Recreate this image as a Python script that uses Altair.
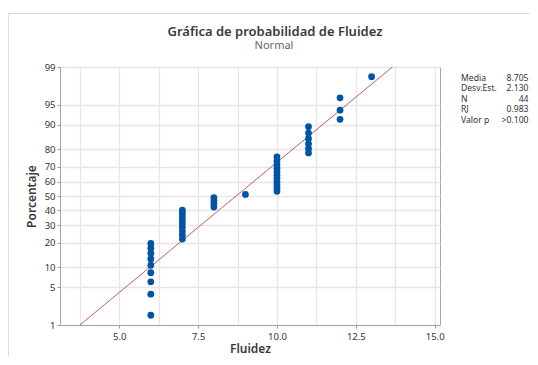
import altair as alt
import pandas as pd
from statistics import NormalDist

# ---- data ----
fluidez_values = [6, 7, 8, 9, 10, 11, 12, 13]
fluidez_counts = [9, 9, 4, 1, 11, 6, 3, 1]
pct_ticks = [1, 5, 10, 20, 30, 40, 50, 60, 70, 80, 90, 95, 99]
x_ticks = [3.75, 5.0, 6.25, 7.5, 8.75, 10.0, 11.25, 12.5, 13.75, 15.0]
x_domain = [3.12, 15.17]
line_pct = [1, 99]
media = 8.705
desv = 2.130
n_obs = 44
stat_labels = ["Media", "Desv.Est.", "N", "RJ", "Valor p"]
stat_values = ["8.705", "2.130", "44", "0.983", ">0.100"]
title_text = "Gráfica de probabilidad de Fluidez"
subtitle_text = "Normal"

FONT = "Noto Sans"
nd = NormalDist()
obs = [v for v, c in zip(fluidez_values, fluidez_counts) for _ in range(c)]
df = pd.DataFrame({"Fluidez": obs})
y_vals = [nd.inv_cdf(p / 100) for p in pct_ticks]
y_domain = [y_vals[0], y_vals[-1]]

W, H = 380, 258
x_scale = alt.Scale(domain=x_domain, nice=False, zero=False)
y_scale = alt.Scale(domain=y_domain, nice=False, zero=False)

x_axis = alt.Axis(
    values=x_ticks,
    labelExpr="datum.value % 2.5 == 0 ? format(datum.value, '.1f') : ''",
    title="Fluidez", grid=True, gridColor="#e6e6e6", gridWidth=1.3,
    tickSize=3, tickColor="#999999",
    tickOpacity={"condition": {"test": "datum.value % 2.5 == 0", "value": 1}, "value": 0},
    domainColor="#a6a6a6", labelFontSize=9.5, labelColor="#333333", labelFont=FONT,
    labelPadding=3, labelOverlap=False, labelFlush=False,
    titleFont=FONT, titleFontSize=12, titleColor="#3a3a3a", titleFontWeight=600,
    titlePadding=3,
)
y_axis = alt.Axis(
    values=y_vals,
    labelExpr="format(round(cumulativeNormal(datum.value) * 100), 'd')",
    title="Porcentaje", grid=True, gridColor="#e6e6e6", gridWidth=1.3,
    tickSize=3, tickColor="#999999", domainColor="#a6a6a6",
    labelFontSize=9.5, labelColor="#333333", labelFont=FONT,
    labelPadding=2, labelOverlap=False, labelFlush=False,
    titleFont=FONT, titleFontSize=12, titleColor="#3a3a3a", titleFontWeight=600,
    titlePadding=6,
)

fit = alt.Chart(pd.DataFrame({"p": line_pct})).transform_calculate(
    z="quantileNormal(datum.p / 100)",
    xf=f"{media} + {desv} * quantileNormal(datum.p / 100)",
).mark_line(color="#b94a48", strokeWidth=0.9).encode(
    x=alt.X("xf:Q", scale=x_scale, axis=x_axis),
    y=alt.Y("z:Q", scale=y_scale, axis=y_axis),
)

points = alt.Chart(df).transform_window(
    rank="row_number()", sort=[alt.SortField("Fluidez")]
).transform_calculate(
    z=f"quantileNormal((datum.rank - 0.3) / ({n_obs} + 0.4))"
).mark_circle(size=46, color="#0054a6", opacity=1).encode(
    x=alt.X("Fluidez:Q", scale=x_scale, axis=x_axis),
    y=alt.Y("z:Q", scale=y_scale, axis=y_axis),
)

one = pd.DataFrame({"a": [0]})
title = alt.Chart(one).mark_text(
    text=title_text, font=FONT, fontSize=13, fontWeight=600, color="#3a3a3a",
    align="center", baseline="alphabetic",
).encode(x=alt.value(215), y=alt.value(-31))
subtitle = alt.Chart(one).mark_text(
    text=subtitle_text, font=FONT, fontSize=11, color="#666666",
    align="center", baseline="alphabetic",
).encode(x=alt.value(214), y=alt.value(-18))

stat_layers = []
for i, (lab, val) in enumerate(zip(stat_labels, stat_values)):
    yy = 14 + i * 10.4
    stat_layers.append(alt.Chart(one).mark_text(
        text=lab, font=FONT, fontSize=8.6, color="#333333",
        align="left", baseline="alphabetic",
    ).encode(x=alt.value(401), y=alt.value(yy)))
    stat_layers.append(alt.Chart(one).mark_text(
        text=val, font=FONT, fontSize=8.6, color="#333333",
        align="right", baseline="alphabetic",
    ).encode(x=alt.value(468.5), y=alt.value(yy)))

frame_left = alt.Chart(one).mark_rule(color="#dddddd", strokeWidth=1).encode(
    x=alt.value(-51.5), y=alt.value(-53.5), y2=alt.value(300))
frame_top = alt.Chart(one).mark_rule(color="#dddddd", strokeWidth=1).encode(
    x=alt.value(-51.5), x2=alt.value(480), y=alt.value(-53.5))

chart = alt.layer(
    frame_left, frame_top, fit, points, title, subtitle, *stat_layers
).properties(
    width=W, height=H,
    autosize=alt.AutoSizeParams(type="none"),
    padding={"left": 52, "top": 59, "right": 90, "bottom": 32},
    background="white",
).configure_view(stroke="#a6a6a6", strokeWidth=1)

chart.save("out.html", embed_options={"renderer": "svg", "actions": False})
